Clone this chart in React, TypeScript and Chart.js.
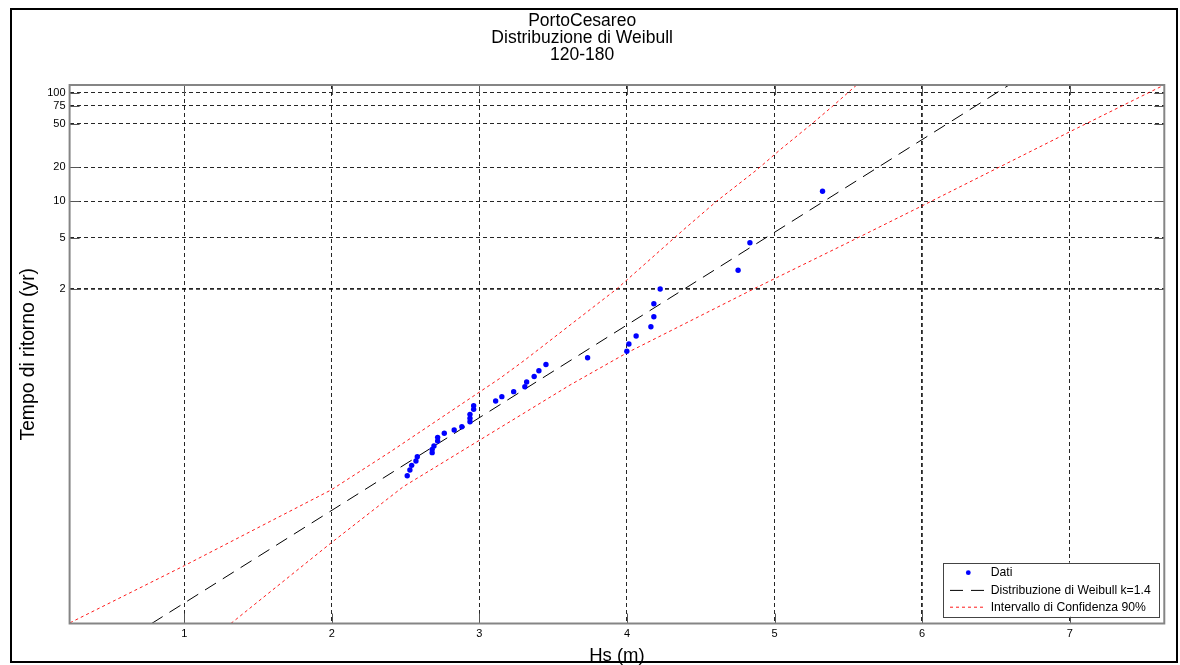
import React, { useEffect, useRef } from 'react';
import Chart from 'chart.js/auto';

// ---------- text ----------
const TITLE_LINES = ['PortoCesareo', 'Distribuzione di Weibull', '120-180'];
const X_LABEL = 'Hs (m)';
const Y_LABEL = 'Tempo di ritorno (yr)';
const LEGEND_DATA = 'Dati';
const LEGEND_FIT = 'Distribuzione di Weibull k=1.4';
const LEGEND_CI = 'Intervallo di Confidenza 90%';

// ---------- axes ----------
const X_TICKS = [1, 2, 3, 4, 5, 6, 7];
const Y_TICK_YEARS = [2, 5, 10, 20, 50, 75, 100];
const X_MIN = 0.223;
const X_MAX = 7.641;
// y axis is the Weibull reduced variate r = (ln(lambda*T))^(1/k)
const Y_MIN = -1.458;
const Y_MAX = 3.715;
const WEIBULL_K = 1.4;
const LN_LAMBDA = 1.5;
const reduced = (T: number) => Math.pow(Math.log(T) + LN_LAMBDA, 1 / WEIBULL_K);

// ---------- data (Hs in m, y in reduced variate) ----------
const dataHs = [2.511, 2.529, 2.541, 2.570, 2.579, 2.680, 2.680, 2.692, 2.717, 2.717, 2.762, 2.829, 2.881,
  2.936, 2.936, 2.936, 2.961, 2.961, 3.110, 3.152, 3.232, 3.308, 3.320, 3.371, 3.403, 3.451, 3.733,
  3.999, 4.013, 4.062, 4.162, 4.182, 4.182, 4.225, 4.753, 4.833, 5.325];
const dataR = [-0.038, 0.016, 0.061, 0.103, 0.144, 0.183, 0.215, 0.247, 0.295, 0.330, 0.369, 0.401, 0.432,
  0.480, 0.513, 0.551, 0.599, 0.634, 0.679, 0.721, 0.769, 0.817, 0.862, 0.915, 0.970, 1.030, 1.095,
  1.157, 1.227, 1.304, 1.393, 1.489, 1.614, 1.755, 1.935, 2.199, 2.694];

const fitHs = [0.779, 6.589];
const fitR = [-1.458, 3.715];

const ciUpperHs = [0.226, 1.000, 1.994, 2.394, 3.139, 3.308, 3.930, 4.381, 4.607, 4.878, 5.036, 5.251, 5.395, 5.556];
const ciUpperR = [-1.451, -0.903, -0.176, 0.189, 0.897, 1.073, 1.755, 2.322, 2.598, 2.898, 3.091, 3.340, 3.513, 3.715];

const ciLowerHs = [1.316, 1.513, 1.994, 2.484, 3.614, 3.997, 4.867, 5.511, 5.998, 7.011, 7.640];
const ciLowerR = [-1.458, -1.233, -0.685, -0.144, 0.833, 1.140, 1.762, 2.210, 2.553, 3.273, 3.715];

const toXY = (xs: number[], ys: number[]) => xs.map((x, i) => ({ x, y: ys[i] }));

const FONT = '"Liberation Sans", Arial, sans-serif';
const RED = 'rgba(255,0,0,0.9)';
const BLUE = '#0000ff';
const FIT_DASH = [13, 8];
const CI_DASH = [3, 3];

const decorPlugin = {
  id: 'decor',
  afterDatasetsDraw(chart: any) {
    const { ctx, chartArea: a, scales } = chart;
    const line = (x1: number, y1: number, x2: number, y2: number) => {
      ctx.beginPath();
      ctx.moveTo(x1, y1);
      ctx.lineTo(x2, y2);
      ctx.stroke();
    };
    ctx.save();
    ctx.setLineDash([]);
    // inner ticks
    ctx.strokeStyle = '#555';
    ctx.lineWidth = 1;
    const TL = 10;
    scales.x.ticks.forEach((t: any) => {
      const x = Math.round(scales.x.getPixelForValue(t.value)) + 0.5;
      line(x, a.bottom, x, a.bottom - TL);
      line(x, a.top, x, a.top + TL);
    });
    scales.y.ticks.forEach((t: any) => {
      const y = Math.round(scales.y.getPixelForValue(t.value)) + 0.5;
      line(a.left, y, a.left + TL, y);
      line(a.right, y, a.right - TL, y);
    });
    // plot box
    ctx.strokeStyle = '#858585';
    ctx.lineWidth = 2;
    ctx.strokeRect(a.left, a.top, a.right - a.left, a.bottom - a.top);

    // legend
    const ds = chart.data.datasets;
    const w = 216, h = 54;
    const lx = a.right - 5.6 - w;
    const ly = a.bottom - 6.8 - h;
    ctx.fillStyle = '#fff';
    ctx.fillRect(lx, ly, w, h);
    ctx.strokeStyle = '#444';
    ctx.lineWidth = 1;
    ctx.strokeRect(Math.round(lx) + 0.5, Math.round(ly) + 0.5, w, h);
    const rows = [ly + 10, ly + 27.7, ly + 44.5];
    // marker
    ctx.fillStyle = BLUE;
    ctx.beginPath();
    ctx.arc(lx + 25.6, rows[0], 2.4, 0, Math.PI * 2);
    ctx.fill();
    // fit line sample
    ctx.strokeStyle = '#000';
    ctx.setLineDash(FIT_DASH);
    line(lx + 7.3, rows[1], lx + 42.3, rows[1]);
    ctx.strokeStyle = RED;
    ctx.setLineDash(CI_DASH);
    line(lx + 7.3, rows[2], lx + 42.3, rows[2]);
    ctx.setLineDash([]);
    ctx.fillStyle = '#000';
    ctx.font = `12.2px ${FONT}`;
    ctx.textBaseline = 'middle';
    ctx.textAlign = 'left';
    ctx.fillText(ds[0].label, lx + 48, rows[0]);
    ctx.fillText(ds[1].label, lx + 48, rows[1]);
    ctx.fillText(ds[2].label, lx + 48, rows[2]);
    ctx.restore();
  },
};

export default function App() {
  const canvasRef = useRef<HTMLCanvasElement | null>(null);

  useEffect(() => {
    const canvas = canvasRef.current;
    if (!canvas) return;
    const chart = new Chart(canvas, {
      type: 'scatter',
      data: {
        datasets: [
          {
            label: LEGEND_DATA,
            data: toXY(dataHs, dataR),
            showLine: false,
            pointRadius: 2.7,
            pointBackgroundColor: BLUE,
            pointBorderWidth: 0,
            backgroundColor: BLUE,
            borderColor: BLUE,
          },
          {
            label: LEGEND_FIT,
            data: toXY(fitHs, fitR),
            showLine: true,
            borderColor: '#000',
            borderWidth: 1,
            borderDash: FIT_DASH,
            pointRadius: 0,
            tension: 0,
          },
          {
            label: LEGEND_CI,
            data: toXY(ciUpperHs, ciUpperR),
            showLine: true,
            borderColor: RED,
            borderWidth: 1,
            borderDash: CI_DASH,
            pointRadius: 0,
            tension: 0,
          },
          {
            label: LEGEND_CI,
            data: toXY(ciLowerHs, ciLowerR),
            showLine: true,
            borderColor: RED,
            borderWidth: 1,
            borderDash: CI_DASH,
            pointRadius: 0,
            tension: 0,
          },
        ],
      },
      options: {
        responsive: false,
        animation: false,
        devicePixelRatio: 1,
        layout: { padding: { left: 0, right: 15.7, top: 0, bottom: 0 } },
        plugins: {
          legend: { display: false },
          tooltip: { enabled: false },
          title: {
            display: true,
            text: TITLE_LINES,
            color: '#000',
            font: { family: FONT, size: 17.5, weight: 'normal', lineHeight: '17px' },
            padding: { top: 12.5, bottom: 21.5 },
          },
        },
        scales: {
          x: {
            type: 'linear',
            min: X_MIN,
            max: X_MAX,
            afterBuildTicks: (scale: any) => {
              scale.ticks = X_TICKS.map((v) => ({ value: v }));
            },
            afterFit: (scale: any) => {
              scale.height = 41.5;
            },
            ticks: {
              autoSkip: false,
              maxRotation: 0,
              padding: 4,
              color: '#000',
              font: { family: FONT, size: 11 },
              callback: (v: any) => String(v),
            },
            grid: {
              drawTicks: false,
              color: 'rgba(0,0,0,0.85)',
              lineWidth: (c: any) => (c.tick && c.tick.value === 6 ? 1.8 : 1),
            },
            border: { display: false, dash: [4, 3] },
            title: {
              display: true,
              text: X_LABEL,
              color: '#000',
              font: { family: FONT, size: 18.5, lineHeight: '19px' },
              padding: { top: 0, bottom: 0 },
            },
          },
          y: {
            type: 'linear',
            min: Y_MIN,
            max: Y_MAX,
            afterBuildTicks: (scale: any) => {
              scale.ticks = Y_TICK_YEARS.map((T) => ({ value: reduced(T) }));
            },
            afterFit: (scale: any) => {
              scale.width = 69.6;
            },
            ticks: {
              autoSkip: false,
              padding: 4,
              color: '#000',
              font: { family: FONT, size: 11 },
              callback: (_v: any, i: number) => String(Y_TICK_YEARS[i]),
            },
            grid: {
              drawTicks: false,
              color: 'rgba(0,0,0,0.85)',
              lineWidth: (c: any) => (c.tick && Math.abs(c.tick.value - reduced(2)) < 1e-9 ? 1.8 : 1),
            },
            border: { display: false, dash: [4, 3] },
            title: {
              display: true,
              text: Y_LABEL,
              color: '#000',
              font: { family: FONT, size: 19.3, lineHeight: '19px' },
              padding: { top: 19.1, bottom: 0 },
            },
          },
        },
      },
      plugins: [decorPlugin],
    } as any);
    return () => chart.destroy();
  }, []);

  return (
    <div style={{ position: 'absolute', left: 0, top: 0, width: 1180, height: 665, background: '#fff' }}>
      <canvas ref={canvasRef} width={1180} height={665} style={{ display: 'block', width: 1180, height: 665 }} />
      <div
        style={{
          position: 'absolute',
          left: 10,
          top: 8,
          width: 1168,
          height: 655,
          border: '2px solid #000',
          boxSizing: 'border-box',
          pointerEvents: 'none',
        }}
      />
    </div>
  );
}
